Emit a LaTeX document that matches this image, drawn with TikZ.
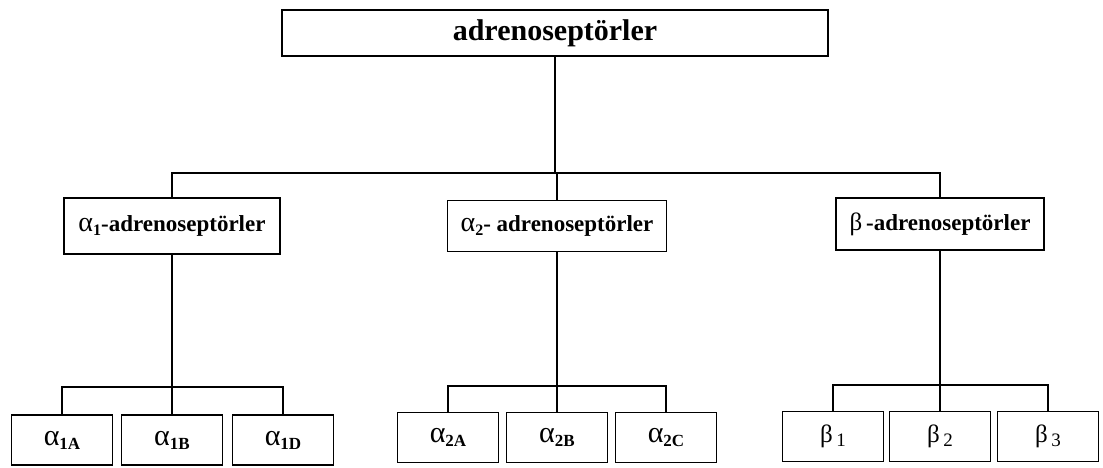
\documentclass[tikz,border=0pt]{standalone}
\usepackage{fontspec}
\setmainfont{Liberation Serif}
\newcommand{\lowsub}[2][16]{\raisebox{-0.4ex}{\fontsize{#1}{#1}\selectfont #2}}
\newcommand{\galpha}[1][28]{{\fontsize{#1}{30}\selectfont\mdseries α}}
\newcommand{\gbeta}{{\fontsize{25}{28}\selectfont\mdseries β}}
\begin{document}
\begin{tikzpicture}[x=1pt,y=1pt,
  box/.style={draw, line width=1.8pt, inner sep=0pt, anchor=center},
  conn/.style={line width=1.8pt},
  lab/.style={font=\fontsize{23}{26}\selectfont\bfseries}]
\useasboundingbox (0,0) rectangle (1103,468);
% top
\node[box, minimum width=546pt, minimum height=46pt, font=\fontsize{30}{34}\selectfont\bfseries] (top) at (555,435) {adrenoseptörler};
% middle
\node[box, minimum width=216pt, minimum height=56pt, lab] (a1) at (172,242) {\galpha\lowsub{1}-adrenoseptörler};
\node[box, minimum width=219pt, minimum height=51pt, lab] (a2) at (557,242) {\galpha\lowsub{2}- adrenoseptörler};
\node[box, minimum width=208pt, minimum height=52pt, lab] (b) at (940,244) {\gbeta\,-adrenoseptörler};
% bottom
\tikzset{leaf/.style={box, minimum width=101pt, minimum height=50pt, font=\fontsize{22}{26}\selectfont}}
\node[leaf] (a1A) at (62,28) {\galpha[30]\lowsub[17]{\bfseries 1A}};
\node[leaf] (a1B) at (172,28) {\galpha[30]\lowsub[17]{\bfseries 1B}};
\node[leaf] (a1D) at (283,28) {\galpha[30]\lowsub[17]{\bfseries 1D}};
\node[leaf] (a2A) at (448,30.5) {\galpha[30]\lowsub[17]{\bfseries 2A}};
\node[leaf] (a2B) at (557,30.5) {\galpha[30]\lowsub[17]{\bfseries 2B}};
\node[leaf] (a2C) at (666,30.5) {\galpha[30]\lowsub[17]{\bfseries 2C}};
\node[leaf] (b1) at (833,31.5) {\gbeta\,\lowsub[19]{1}};
\node[leaf] (b2) at (940,31.5) {\gbeta\,\lowsub[19]{2}};
\node[leaf] (b3) at (1048,31.5) {\gbeta\,\lowsub[19]{3}};
% junctions
\coordinate (j0) at (555,295);
\coordinate (j1) at (172,81);
\coordinate (j2) at (557,82);
\coordinate (j3) at (940,83);
% connectors
\draw[conn] (top.south) -- (j0);
\draw[conn] (a1.north) |- (j0) -| (b.north);
\draw[conn] (a2.north) -- (a2.north |- j0);
\draw[conn] (a1.south) -- (a1.south |- j1);
\draw[conn] (a1A.north) |- (j1) -| (a1D.north);
\draw[conn] (a1B.north) -- (a1B.north |- j1);
\draw[conn] (a2.south) -- (a2.south |- j2);
\draw[conn] (a2A.north) |- (j2) -| (a2C.north);
\draw[conn] (a2B.north) -- (a2B.north |- j2);
\draw[conn] (b.south) -- (b.south |- j3);
\draw[conn] (b1.north) |- (j3) -| (b3.north);
\draw[conn] (b2.north) -- (b2.north |- j3);
\end{tikzpicture}
\end{document}
